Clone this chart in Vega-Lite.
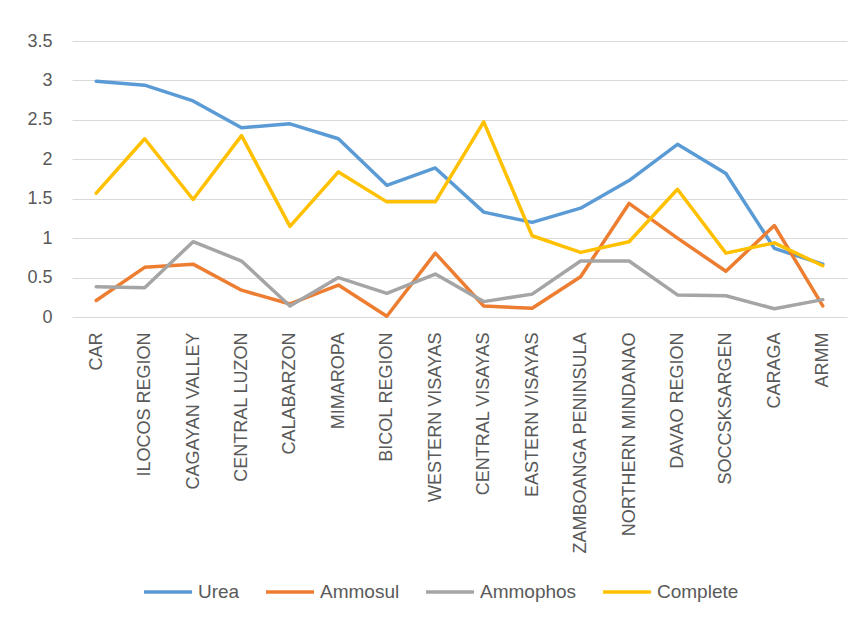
{
  "$schema": "https://vega.github.io/schema/vega-lite/v6.json",
  "width": 775,
  "height": 276,
  "autosize": {"type": "none"},
  "padding": {"left": 72, "top": 41, "right": 12, "bottom": 302},
  "background": "white",
  "datasets": {
    "d": [
      {"region": "CAR", "type": "Urea", "value": 2.99},
      {"region": "ILOCOS REGION", "type": "Urea", "value": 2.94},
      {"region": "CAGAYAN VALLEY", "type": "Urea", "value": 2.74},
      {"region": "CENTRAL LUZON", "type": "Urea", "value": 2.40},
      {"region": "CALABARZON", "type": "Urea", "value": 2.45},
      {"region": "MIMAROPA", "type": "Urea", "value": 2.26},
      {"region": "BICOL REGION", "type": "Urea", "value": 1.67},
      {"region": "WESTERN VISAYAS", "type": "Urea", "value": 1.89},
      {"region": "CENTRAL VISAYAS", "type": "Urea", "value": 1.33},
      {"region": "EASTERN VISAYAS", "type": "Urea", "value": 1.20},
      {"region": "ZAMBOANGA PENINSULA", "type": "Urea", "value": 1.38},
      {"region": "NORTHERN MINDANAO", "type": "Urea", "value": 1.73},
      {"region": "DAVAO REGION", "type": "Urea", "value": 2.19},
      {"region": "SOCCSKSARGEN", "type": "Urea", "value": 1.82},
      {"region": "CARAGA", "type": "Urea", "value": 0.87},
      {"region": "ARMM", "type": "Urea", "value": 0.67},
      {"region": "CAR", "type": "Ammosul", "value": 0.21},
      {"region": "ILOCOS REGION", "type": "Ammosul", "value": 0.63},
      {"region": "CAGAYAN VALLEY", "type": "Ammosul", "value": 0.67},
      {"region": "CENTRAL LUZON", "type": "Ammosul", "value": 0.34},
      {"region": "CALABARZON", "type": "Ammosul", "value": 0.165},
      {"region": "MIMAROPA", "type": "Ammosul", "value": 0.405},
      {"region": "BICOL REGION", "type": "Ammosul", "value": 0.01},
      {"region": "WESTERN VISAYAS", "type": "Ammosul", "value": 0.81},
      {"region": "CENTRAL VISAYAS", "type": "Ammosul", "value": 0.14},
      {"region": "EASTERN VISAYAS", "type": "Ammosul", "value": 0.11},
      {"region": "ZAMBOANGA PENINSULA", "type": "Ammosul", "value": 0.51},
      {"region": "NORTHERN MINDANAO", "type": "Ammosul", "value": 1.44},
      {"region": "DAVAO REGION", "type": "Ammosul", "value": 1.0},
      {"region": "SOCCSKSARGEN", "type": "Ammosul", "value": 0.58},
      {"region": "CARAGA", "type": "Ammosul", "value": 1.16},
      {"region": "ARMM", "type": "Ammosul", "value": 0.14},
      {"region": "CAR", "type": "Ammophos", "value": 0.385},
      {"region": "ILOCOS REGION", "type": "Ammophos", "value": 0.37},
      {"region": "CAGAYAN VALLEY", "type": "Ammophos", "value": 0.955},
      {"region": "CENTRAL LUZON", "type": "Ammophos", "value": 0.71},
      {"region": "CALABARZON", "type": "Ammophos", "value": 0.14},
      {"region": "MIMAROPA", "type": "Ammophos", "value": 0.50},
      {"region": "BICOL REGION", "type": "Ammophos", "value": 0.30},
      {"region": "WESTERN VISAYAS", "type": "Ammophos", "value": 0.545},
      {"region": "CENTRAL VISAYAS", "type": "Ammophos", "value": 0.195},
      {"region": "EASTERN VISAYAS", "type": "Ammophos", "value": 0.29},
      {"region": "ZAMBOANGA PENINSULA", "type": "Ammophos", "value": 0.71},
      {"region": "NORTHERN MINDANAO", "type": "Ammophos", "value": 0.71},
      {"region": "DAVAO REGION", "type": "Ammophos", "value": 0.28},
      {"region": "SOCCSKSARGEN", "type": "Ammophos", "value": 0.27},
      {"region": "CARAGA", "type": "Ammophos", "value": 0.105},
      {"region": "ARMM", "type": "Ammophos", "value": 0.22},
      {"region": "CAR", "type": "Complete", "value": 1.57},
      {"region": "ILOCOS REGION", "type": "Complete", "value": 2.26},
      {"region": "CAGAYAN VALLEY", "type": "Complete", "value": 1.49},
      {"region": "CENTRAL LUZON", "type": "Complete", "value": 2.30},
      {"region": "CALABARZON", "type": "Complete", "value": 1.15},
      {"region": "MIMAROPA", "type": "Complete", "value": 1.84},
      {"region": "BICOL REGION", "type": "Complete", "value": 1.46},
      {"region": "WESTERN VISAYAS", "type": "Complete", "value": 1.46},
      {"region": "CENTRAL VISAYAS", "type": "Complete", "value": 2.475},
      {"region": "EASTERN VISAYAS", "type": "Complete", "value": 1.03},
      {"region": "ZAMBOANGA PENINSULA", "type": "Complete", "value": 0.82},
      {"region": "NORTHERN MINDANAO", "type": "Complete", "value": 0.955},
      {"region": "DAVAO REGION", "type": "Complete", "value": 1.62},
      {"region": "SOCCSKSARGEN", "type": "Complete", "value": 0.81},
      {"region": "CARAGA", "type": "Complete", "value": 0.94},
      {"region": "ARMM", "type": "Complete", "value": 0.65}
    ]
  },
  "data": {"name": "d"},
  "mark": {"type": "line", "strokeWidth": 3.5, "strokeCap": "round", "strokeJoin": "round"},
  "encoding": {
    "x": {
      "field": "region",
      "type": "nominal",
      "sort": null,
      "scale": {"type": "point", "padding": 0.5},
      "axis": {
        "title": null,
        "labelAngle": -90,
        "labelAlign": "right",
        "labelBaseline": "middle",
        "labelPadding": 15,
        "ticks": false,
        "tickSize": 0,
        "domain": false,
        "grid": false,
        "labelFont": "Liberation Sans",
        "labelFontSize": 18,
        "labelColor": "#595959",
        "labelLimit": 400
      }
    },
    "y": {
      "field": "value",
      "type": "quantitative",
      "scale": {"domain": [0, 3.5], "nice": false, "zero": true},
      "axis": {
        "title": null,
        "values": [0, 0.5, 1, 1.5, 2, 2.5, 3, 3.5],
        "format": "~g",
        "labelPadding": 20,
        "ticks": false,
        "tickSize": 0,
        "domain": false,
        "grid": true,
        "gridColor": "#d9d9d9",
        "gridWidth": 1,
        "labelFont": "Liberation Sans",
        "labelFontSize": 18,
        "labelColor": "#595959"
      }
    },
    "color": {
      "field": "type",
      "type": "nominal",
      "scale": {
        "domain": ["Urea", "Ammosul", "Ammophos", "Complete"],
        "range": ["#5B9BD5", "#ED7D31", "#A5A5A5", "#FFC000"]
      },
      "legend": {
        "title": null,
        "orient": "none",
        "direction": "horizontal",
        "legendX": 70,
        "legendY": 525,
        "padding": 0,
        "symbolType": "stroke",
        "symbolSize": 2304,
        "symbolStrokeWidth": 3.5,
        "labelOffset": 4,
        "columnPadding": 19,
        "labelFont": "Liberation Sans",
        "labelFontSize": 19,
        "labelColor": "#595959",
        "labelLimit": 300
      }
    }
  },
  "config": {
    "view": {"stroke": null}
  }
}
